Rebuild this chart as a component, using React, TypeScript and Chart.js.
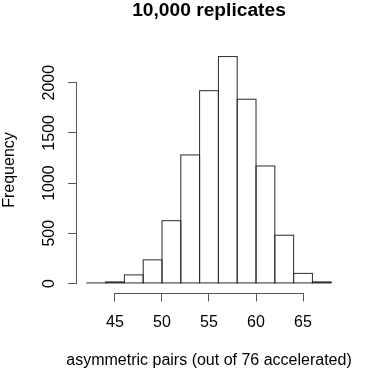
import React, { useEffect, useRef } from "react";
import { Chart, registerables } from "chart.js";

Chart.register(...registerables);

// Histogram data
const breaks = [42, 44, 46, 48, 50, 52, 54, 56, 58, 60, 62, 64, 66, 68];
const counts = [5, 15, 85, 235, 625, 1280, 1920, 2260, 1835, 1170, 480, 100, 15];
const xTicks = [45, 50, 55, 60, 65];
const yTicks = [0, 500, 1000, 1500, 2000];
const titleText = "10,000 replicates";
const xTitle = "asymmetric pairs (out of 76 accelerated)";
const yTitle = "Frequency";

const FONT = "'Liberation Sans', Arial, Helvetica, sans-serif";
const AXIS_COLOR = "#555";
const BAR_EDGE = "#2a2a2a";

// R-style axis lines spanning first..last tick
const axisLinePlugin = {
  id: "rAxisLines",
  afterDraw(chart: any) {
    const { ctx, chartArea, scales } = chart;
    const x = scales.x;
    const y = scales.y;
    ctx.save();
    ctx.strokeStyle = AXIS_COLOR;
    ctx.lineWidth = 1;
    ctx.beginPath();
    const yb = Math.round(chartArea.bottom) + 0.5;
    ctx.moveTo(x.getPixelForValue(xTicks[0]), yb);
    ctx.lineTo(x.getPixelForValue(xTicks[xTicks.length - 1]), yb);
    const xl = Math.round(chartArea.left) - 0.5;
    ctx.moveTo(xl, y.getPixelForValue(yTicks[0]));
    ctx.lineTo(xl, y.getPixelForValue(yTicks[yTicks.length - 1]));
    ctx.stroke();
    ctx.restore();
  },
};

// X axis title centred under the plot region, without width compression
const xTitlePlugin = {
  id: "xTitle",
  afterDraw(chart: any) {
    const { ctx, chartArea, height } = chart;
    ctx.save();
    ctx.fillStyle = "#000";
    ctx.font = `16px ${FONT}`;
    ctx.textAlign = "center";
    ctx.textBaseline = "middle";
    ctx.fillText(xTitle, (chartArea.left + chartArea.right) / 2, height - 16);
    ctx.restore();
  },
};

// Outline each histogram bar (shared 1px edges like R's rect())
const barOutlinePlugin = {
  id: "barOutlines",
  afterDatasetsDraw(chart: any) {
    const { ctx } = chart;
    const meta = chart.getDatasetMeta(0);
    ctx.save();
    ctx.strokeStyle = BAR_EDGE;
    ctx.lineWidth = 1;
    meta.data.forEach((el: any) => {
      const p = el.getProps(["x", "y", "base", "width"], true);
      const left = p.x - p.width / 2;
      const top = Math.min(p.y, p.base);
      const h = Math.abs(p.base - p.y);
      ctx.strokeRect(left, top, p.width, h);
    });
    ctx.restore();
  },
};

export default function App() {
  const ref = useRef<HTMLCanvasElement | null>(null);

  useEffect(() => {
    if (!ref.current) return;
    const xRange = breaks[breaks.length - 1] - breaks[0];
    const yMax = Math.max(...counts);
    const data = counts.map((c, i) => ({ x: (breaks[i] + breaks[i + 1]) / 2, y: c }));

    const chart = new Chart(ref.current, {
      type: "bar",
      data: {
        datasets: [
          {
            data,
            backgroundColor: "#ffffff",
            borderWidth: 0,
            barPercentage: 1,
            categoryPercentage: 1,
          } as any,
        ],
      },
      options: {
        animation: false,
        responsive: false,
        devicePixelRatio: 1,
        layout: { padding: { left: 0, right: 28, top: 0, bottom: 0 } },
        plugins: {
          legend: { display: false },
          tooltip: { enabled: false },
          title: {
            display: true,
            text: titleText,
            fullSize: false,
            color: "#000",
            font: { family: FONT, size: 19.2, weight: "bold", lineHeight: 1.2 },
            padding: { top: -1, bottom: 25.46 },
          },
        },
        scales: {
          x: {
            type: "linear",
            offset: false,
            min: breaks[0] - 0.04 * xRange,
            max: breaks[breaks.length - 1] + 0.04 * xRange,
            afterBuildTicks: (scale: any) => {
              scale.ticks = xTicks.map((v) => ({ value: v }));
            },
            afterFit: (scale: any) => {
              scale.height = 84.5;
            },
            grid: {
              drawOnChartArea: false,
              drawTicks: true,
              tickLength: 9,
              color: AXIS_COLOR,
              offset: false,
            },
            border: { display: false },
            ticks: {
              color: "#000",
              font: { family: FONT, size: 16, lineHeight: 1.2 },
              padding: 11.5,
              maxRotation: 0,
              minRotation: 0,
              autoSkip: false,
              callback: (v: any) => String(v),
            },
            title: { display: false },
          },
          y: {
            type: "linear",
            min: -0.04 * yMax,
            max: 1.04 * yMax,
            afterBuildTicks: (scale: any) => {
              scale.ticks = yTicks.map((v) => ({ value: v }));
            },
            afterFit: (scale: any) => {
              scale.width = 77;
            },
            grid: {
              drawOnChartArea: false,
              drawTicks: true,
              tickLength: 9,
              color: AXIS_COLOR,
            },
            border: { display: false },
            ticks: {
              color: "#000",
              font: { family: FONT, size: 16, lineHeight: 1.2 },
              padding: 1,
              minRotation: 90,
              maxRotation: 90,
              crossAlign: "center",
              autoSkip: false,
              callback: (v: any) => String(v),
            },
            title: {
              display: true,
              text: yTitle,
              color: "#000",
              font: { family: FONT, size: 16, lineHeight: 1.2 },
              padding: { top: 0, bottom: 0 },
            },
          },
        },
      },
      plugins: [barOutlinePlugin, axisLinePlugin, xTitlePlugin],
    });

    return () => chart.destroy();
  }, []);

  return (
    <div style={{ position: "fixed", left: 0, top: 0, width: 369, height: 377, background: "#fff" }}>
      <canvas ref={ref} width={369} height={377} />
    </div>
  );
}
